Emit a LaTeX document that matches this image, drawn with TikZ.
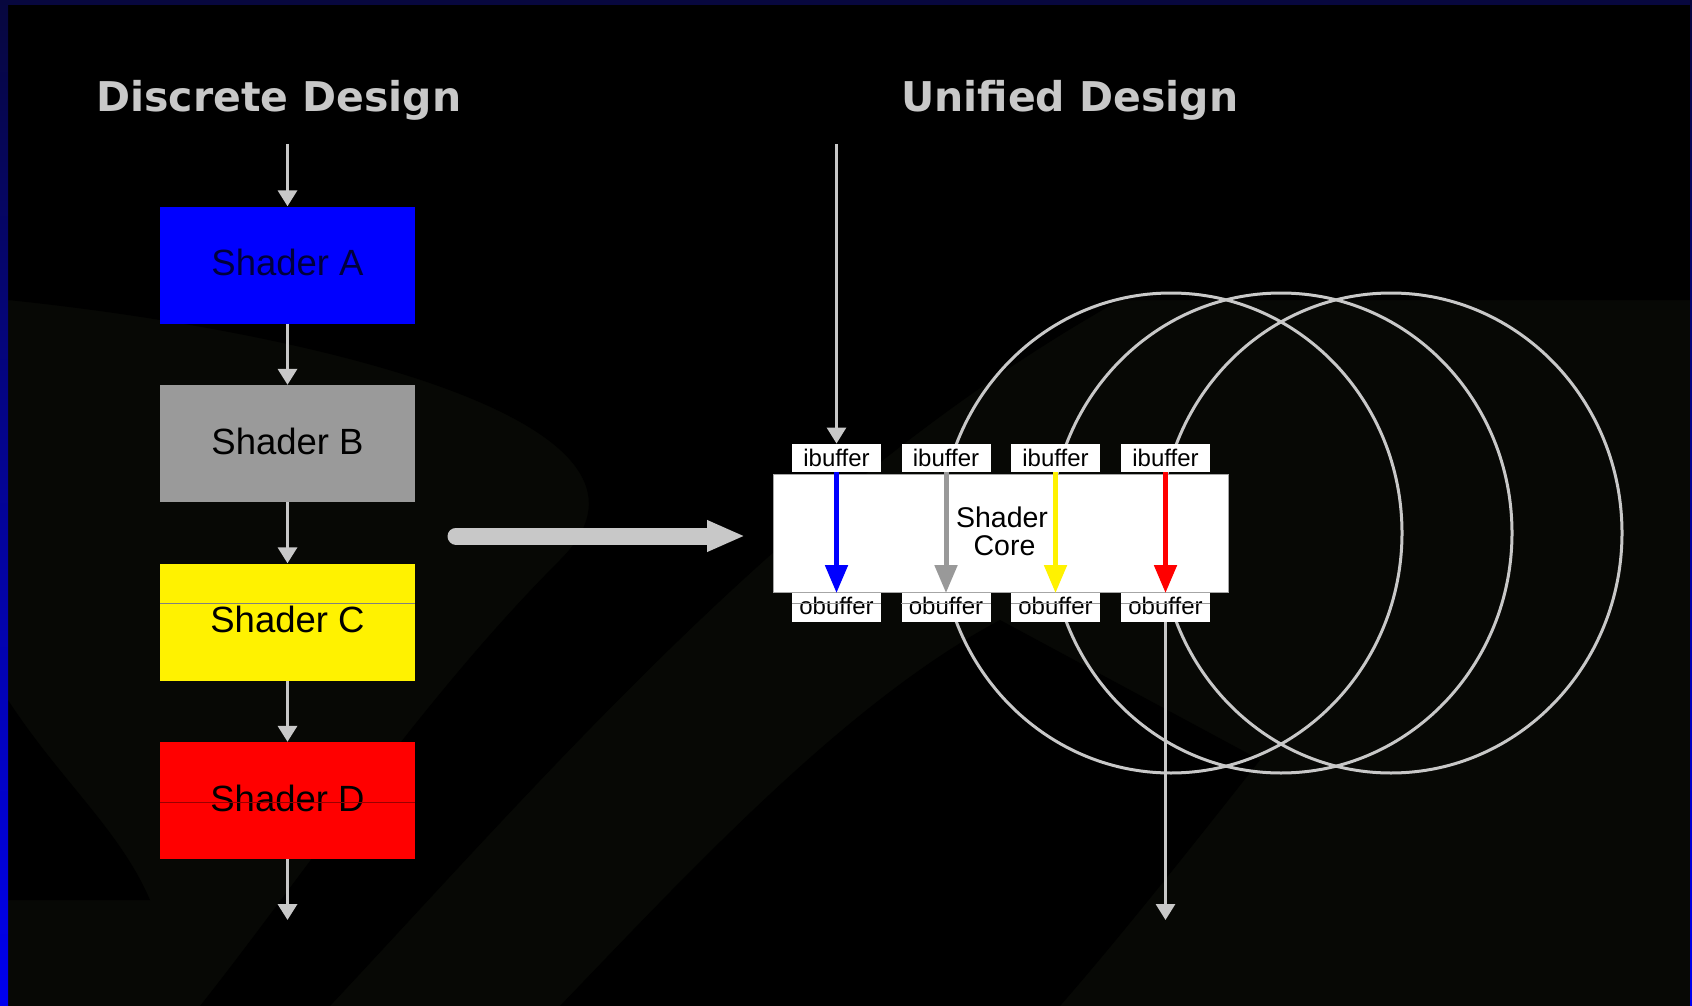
\documentclass[tikz,border=0pt]{standalone}
\usepackage{fontspec}
\setmainfont{Liberation Sans}
\newfontfamily\titlefont{DejaVu Sans}
\usetikzlibrary{arrows.meta}
\definecolor{lgray}{HTML}{C8C8C8}
\definecolor{bgolive}{HTML}{070805}
\definecolor{navyedge}{HTML}{07073E}
\definecolor{blueedge}{HTML}{0000F0}
\definecolor{shadegray}{HTML}{9A9A9A}
\definecolor{arrowgray}{HTML}{999999}
\definecolor{navytext}{HTML}{00003C}
\tikzset{
  titletext/.style={text=lgray, inner sep=0pt, font=\titlefont\bfseries\fontsize{41}{44}\selectfont},
  shaderbox/.style={minimum width=255pt, minimum height=117pt, inner sep=0pt, text=black,
    text depth=5pt, font=\fontsize{36.5}{40}\selectfont},
  buf/.style={fill=white, minimum width=89pt, minimum height=28.5pt, inner sep=0pt, text=black,
    font=\fontsize{24}{26}\selectfont},
  coretext/.style={align=center, inner sep=0pt, text=black, font=\fontsize{28.5}{27.5}\selectfont},
  grayarrow/.style={draw=lgray, line width=3.5pt, -{Triangle[width=19pt,length=16pt]}},
  colarrow/.style={line width=5pt, -{Triangle[width=22pt,length=28pt]}},
  ring/.style={draw=lgray, line width=3pt},
  artline/.style={line width=0.8pt}
}
\begin{document}
\begin{tikzpicture}[x=1pt,y=-1pt]
\useasboundingbox (0,0) rectangle (1692,1006);
% background
\fill[black] (0,0) rectangle (1692,1006);
\fill[bgolive] (8,5) -- (1690,5) -- (1690,1006) -- (8,1006) -- cycle;
\fill[black] (330,1006) .. controls (560,760) and (800,480) .. (1120,300)
   -- (1690,300) -- (1690,5) -- (8,5) -- (8,300)
   .. controls (300,330) and (700,420) .. (560,560)
   .. controls (420,700) and (300,880) .. (200,1006) -- cycle;
\fill[black] (560,1006) .. controls (700,860) and (850,700) .. (1000,620)
   -- (1260,760) .. controls (1150,900) and (1100,960) .. (1060,1006) -- cycle;
\fill[black] (8,700) .. controls (60,780) and (120,830) .. (150,900) -- (8,900) -- cycle;
% borders
\fill[top color=navyedge, bottom color=blueedge] (0,0) rectangle (8,1006);
\fill[top color=navyedge, bottom color=blueedge] (1690,0) rectangle (1692,1006);
\fill[navyedge] (0,0) rectangle (1692,5);

% titles
\node[titletext, anchor=base west] (t1) at (96,112) {Discrete Design};
\node[titletext, anchor=base west] (t2) at (901,112) {Unified Design};

% discrete design column
\node[shaderbox, fill=blue, text=navytext] (A) at (287.5,265) {Shader A};
\node[shaderbox, fill=shadegray] (B) at (287.5,443.5) {Shader B};
\node[shaderbox, fill=yellow] (C) at (287.5,622) {Shader C};
\node[shaderbox, fill=red] (D) at (287.5,800.5) {Shader D};
\draw[artline, draw=gray] (C.west |- 0,603) -- (C.east |- 0,603);
\draw[artline, draw=red!60!black] (D.west |- 0,802) -- (D.east |- 0,802);

\coordinate (inA) at (287.5,144);
\coordinate (outD) at (287.5,920);
\draw[grayarrow] (inA) -- (A.north);
\draw[grayarrow] (A.south) -- (B.north);
\draw[grayarrow] (B.south) -- (C.north);
\draw[grayarrow] (C.south) -- (D.north);
\draw[grayarrow] (D.south) -- (outD);

% big arrow
\coordinate (bigS) at (456,536);
\coordinate (bigE) at (745,536);
\draw[draw=lgray, line width=17pt, line cap=round, -{Triangle[width=29pt,length=38pt]}] (bigS) -- (bigE);

% rings (behind)
\draw[ring] (1171,533) ellipse [x radius=231, y radius=240];
\draw[ring] (1281,533) ellipse [x radius=231, y radius=240];
\draw[ring] (1391,533) ellipse [x radius=231, y radius=240];

% shader core
\node[fill=white, draw=gray!70, line width=0.8pt, minimum width=455pt, minimum height=118pt, inner sep=0pt] (core) at (1000.5,533) {};
\node[coretext] (coretxt) at (1002,531.5) {Shader\\\hspace*{5pt}Core};

\node[buf] (i1) at (836.5,458) {ibuffer};
\node[buf] (i2) at (946,458) {ibuffer};
\node[buf] (i3) at (1055.5,458) {ibuffer};
\node[buf] (i4) at (1165.5,458) {ibuffer};
\node[buf, text depth=3pt] (o1) at (836.5,607.5) {obuffer};
\node[buf, text depth=3pt] (o2) at (946,607.5) {obuffer};
\node[buf, text depth=3pt] (o3) at (1055.5,607.5) {obuffer};
\node[buf, text depth=3pt] (o4) at (1165.5,607.5) {obuffer};
\foreach \n in {o1,o2,o3,o4}{
  \draw[artline, draw=gray!80] (\n.west |- 0,603) -- (\n.east |- 0,603);
}

\draw[colarrow, draw=blue, fill=blue] (i1.south) -- (o1.north);
\draw[colarrow, draw=arrowgray, fill=arrowgray] (i2.south) -- (o2.north);
\draw[colarrow, draw=yellow, fill=yellow] (i3.south) -- (o3.north);
\draw[colarrow, draw=red, fill=red] (i4.south) -- (o4.north);

\coordinate (inU) at (836.5,144);
\coordinate (outU) at (1165.5,920);
\draw[grayarrow, line width=3pt] (inU) -- (i1.north);
\draw[grayarrow, line width=3pt] (o4.south) -- (outU);
\end{tikzpicture}
\end{document}
